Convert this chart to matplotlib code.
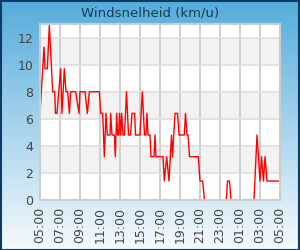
import numpy as np
import pandas as pd
import matplotlib
matplotlib.use("Agg")
import matplotlib.pyplot as plt
from matplotlib.patches import Rectangle

# wind speed readings (km/u), clock times over one day starting 05:00
times = ["05:00", "05:24", "05:30", "05:44", "05:56", "06:16", "06:28", "06:33",
         "06:42", "07:04", "07:12", "07:26", "07:36", "07:46", "07:56", "08:04",
         "08:34", "08:54", "09:00", "09:30", "09:44", "09:56", "10:56", "11:04",
         "11:16", "11:26", "11:36", "11:44", "12:00", "12:04", "12:12", "12:26",
         "12:32", "12:40", "12:46", "12:52", "12:57", "13:04", "13:10", "13:18",
         "13:27", "13:39", "13:51", "14:03", "14:12", "14:28", "14:33", "15:00",
         "15:14", "15:27", "15:36", "15:42", "15:48", "16:00", "16:06", "16:24",
         "16:30", "16:36", "17:18", "17:26", "17:40", "17:54", "18:09", "18:15",
         "18:30", "18:45", "18:54", "19:26", "19:33", "19:42", "19:48", "19:57",
         "20:50", "21:00", "21:16", "21:27", "23:38", "23:45", "23:57", "00:06",
         "02:24", "02:42", "03:00", "03:09", "03:21", "03:30", "03:42", "05:00"]
speed = [6.4, 11.3, 9.7, 9.7, 12.9, 8.0, 8.0, 6.4,
         6.4, 9.7, 6.4, 9.7, 8.0, 8.0, 6.4, 8.0,
         8.0, 6.4, 8.0, 8.0, 6.4, 8.0, 8.0, 6.4,
         6.4, 3.2, 6.4, 4.8, 4.8, 6.4, 4.8, 4.8,
         3.2, 6.4, 4.8, 4.8, 6.4, 4.8, 6.4, 4.8,
         4.8, 8.0, 4.8, 4.8, 6.4, 6.4, 4.8, 4.8,
         8.0, 4.8, 4.8, 6.4, 4.8, 4.8, 3.2, 3.2,
         4.8, 3.2, 3.2, 1.4, 3.2, 1.4, 4.8, 3.2,
         6.4, 6.4, 4.8, 4.8, 6.4, 4.8, 4.8, 3.2,
         3.2, 1.4, 1.4, 0.0, 0.0, 1.4, 1.4, 0.0,
         0.0, 4.8, 1.4, 3.2, 1.4, 3.2, 1.4, 1.4]
tick_hours = ["05:00", "07:00", "09:00", "11:00", "13:00", "15:00", "17:00",
              "19:00", "21:00", "23:00", "01:00", "03:00", "05:00"]

# build datetimes, rolling over midnight
start = pd.Timestamp("2024-01-01 05:00")
end = start + pd.Timedelta(days=1)
stamps = []
day = 0
for t in times:
    ts = pd.Timestamp("2024-01-01 " + t) + pd.Timedelta(days=day)
    if stamps and ts <= stamps[-1]:
        day += 1
        ts = ts + pd.Timedelta(days=1)
    stamps.append(ts)

fig = plt.figure(figsize=(3, 2.5), dpi=100)

# gradient background
bg = fig.add_axes([0, 0, 1, 1], zorder=-10)
top_c = np.array([0x55, 0xac, 0xdc]) / 255
bot_c = np.array([0xf6, 0xfa, 0xfd]) / 255
g = np.linspace(0, 1, 256)[:, None]
grad = top_c[None, :] * (1 - g) + bot_c[None, :] * g
grad = np.repeat(grad[:, None, :], 2, axis=1)
bg.imshow(grad, aspect="auto", extent=[0, 1, 0, 1], origin="upper")
bg.set_xlim(0, 1)
bg.set_ylim(0, 1)
bg.axis("off")
fig.add_artist(Rectangle((0.002, 0.002), 0.996, 0.996, transform=fig.transFigure,
                         fill=False, edgecolor="#0c3b66", linewidth=1.5))

fig.text(0.5, 1 - 12.5 / 250, "Windsnelheid (km/u)", ha="center", va="center",
         fontsize=9.5, color="#1b3a57")

ax = fig.add_axes([40 / 300, 1 - 200 / 250, 240 / 300, 176 / 250])
ax.set_facecolor("white")
ax.set_xlim(start, end)
ax.set_ylim(0, 13)

# alternating bands
for lo in [2, 6, 10]:
    ax.axhspan(lo, lo + 2, color="#f2f2f2", zorder=0, linewidth=0)

ax.plot(stamps, speed, color="#ff0000", linewidth=1.0, zorder=3)

ax.set_yticks([0, 2, 4, 6, 8, 10, 12])
tick_stamps = [start + pd.Timedelta(hours=2 * i) for i in range(len(tick_hours))]
ax.set_xticks(tick_stamps)
ax.set_xticklabels(tick_hours, rotation=90)
ax.grid(True, axis="y", color="#dedede", linewidth=1.2)
ax.grid(True, axis="x", color="#cccccc", linewidth=1.3)
for gl in ax.get_xgridlines() + ax.get_ygridlines():
    gl.set_zorder(1)
for s in ax.spines.values():
    s.set_color("#cccccc")
    s.set_linewidth(1.5)
    s.set_zorder(5)
ax.tick_params(length=0, labelsize=9, colors="#444444", pad=5)

fig.savefig("out.png", dpi=100)
